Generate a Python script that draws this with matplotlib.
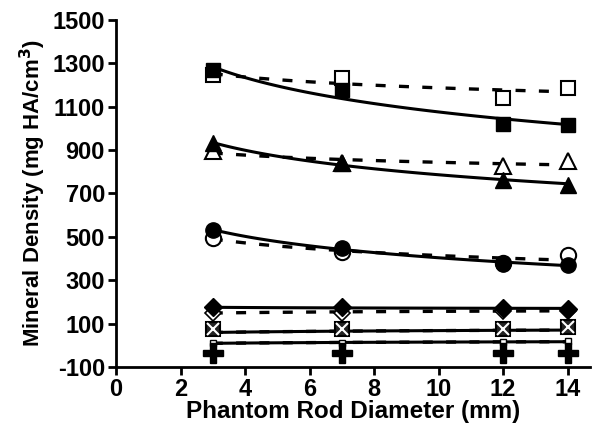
import numpy as np
import matplotlib
matplotlib.use('Agg')
import matplotlib.pyplot as plt

plt.rcParams['font.family'] = ['Liberation Sans', 'DejaVu Sans']
plt.rcParams['font.weight'] = 'bold'
plt.rcParams['axes.unicode_minus'] = False

# 棒径
diam = [3, 7, 12, 14]

# 实心标记 (实线拟合)
sq_fill = [1268, 1177, 1022, 1015]
tri_fill = [930, 840, 762, 740]
circ_fill = [530, 450, 375, 370]
dia_fill = [174, 174, 170, 169]
xsq_fill = [77, 77, 75, 82]
plus_fill = [-34, -38, -36, -38]

# 空心标记 (虚线拟合)
sq_open = [1245, 1230, 1140, 1188]
tri_open = [895, 840, 828, 848]
circ_open = [495, 430, 380, 415]
dia_open = [150, 150, 158, 160]
xsq_open = [60, 62, 68, 72]
small_sq_open = [10, 10, 15, 18]

fig = plt.figure(figsize=(6.01, 4.41), dpi=100)
ax = fig.add_axes([0.193, 0.168, 0.789, 0.787])

xf = np.linspace(3, 14, 100)

def fit_line(y, ls):
    b, a = np.polyfit(np.log(diam), y, 1)
    if ls == '--':
        ax.plot(xf, a + b * np.log(xf), color='black', lw=2.4, ls='--', dashes=(3, 4), zorder=2)
    else:
        ax.plot(xf, a + b * np.log(xf), color='black', lw=2.2, zorder=2)

# 实线
for y in [sq_fill, tri_fill, circ_fill, dia_fill, xsq_open, small_sq_open]:
    fit_line(y, '-')
# 虚线
for y in [sq_open, tri_open, circ_open, dia_open, xsq_open, small_sq_open]:
    fit_line(y, '--')

# 空心标记
ax.plot(diam, sq_open, ls='none', marker='s', ms=10, mfc='white', mec='black', mew=1.5, zorder=3)
ax.plot(diam, tri_open, ls='none', marker='^', ms=11, mfc='white', mec='black', mew=1.5, zorder=3)
ax.plot(diam, circ_open, ls='none', marker='o', ms=11, mfc='white', mec='black', mew=1.5, zorder=3)
ax.plot(diam, dia_open, ls='none', marker='D', ms=8, mfc='white', mec='black', mew=1.2, zorder=3)
ax.plot(diam, small_sq_open, ls='none', marker='s', ms=5, mfc='white', mec='black', mew=1, zorder=3)

# 实心标记
ax.plot(diam, sq_fill, ls='none', marker='s', ms=10, mfc='black', mec='black', zorder=4)
ax.plot(diam, tri_fill, ls='none', marker='^', ms=11, mfc='black', mec='black', zorder=4)
ax.plot(diam, circ_fill, ls='none', marker='o', ms=11, mfc='black', mec='black', zorder=4)
ax.plot(diam, dia_fill, ls='none', marker='D', ms=9, mfc='black', mec='black', zorder=4)
ax.plot(diam, xsq_fill, ls='none', marker='s', ms=10, mfc='#222222', mec='black', mew=1.5, zorder=4)
ax.plot(diam, xsq_fill, ls='none', marker='x', ms=8, mec='white', mew=1.5, zorder=5)
ax.plot(diam, plus_fill, ls='none', marker='P', ms=14, mfc='black', mec='black', zorder=4)

ax.set_xlim(0, 14.7)
ax.set_ylim(-100, 1500)
ax.set_xticks(range(0, 15, 2))
ax.set_yticks(range(-100, 1501, 200))
for sp in ['top', 'right']:
    ax.spines[sp].set_visible(False)
for sp in ['left', 'bottom']:
    ax.spines[sp].set_linewidth(2)
ax.tick_params(width=2, length=6, labelsize=17, pad=2)
for lab in ax.get_xticklabels() + ax.get_yticklabels():
    lab.set_fontweight('bold')
ax.set_xlabel('Phantom Rod Diameter (mm)', fontsize=17.5, fontweight='bold', labelpad=-1)
ax.set_ylabel('Mineral Density (mg HA/cm$^\\mathbf{3}$)', fontsize=16, fontweight='bold', labelpad=3)

fig.savefig('out.png', dpi=100)
